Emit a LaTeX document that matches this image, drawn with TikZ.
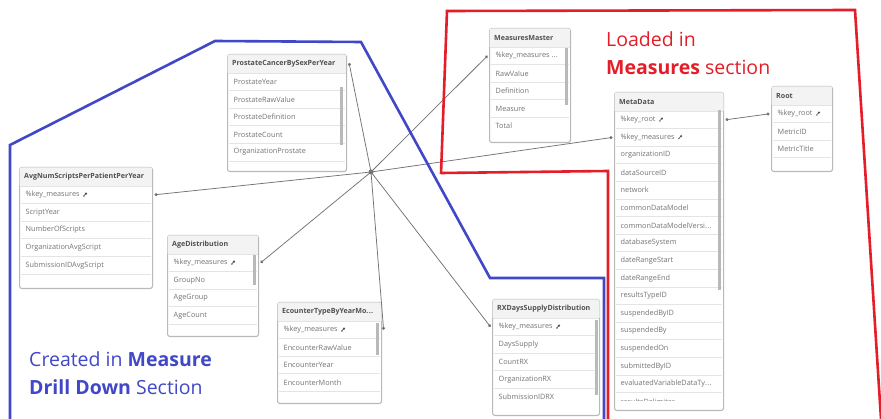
\documentclass[tikz,border=0pt]{standalone}
\usepackage{fontspec}
\setmainfont{Open Sans}
\usetikzlibrary{arrows.meta}
\definecolor{qblue}{RGB}{64,72,200}
\definecolor{qred}{RGB}{228,30,40}
\definecolor{qtxt}{RGB}{115,115,115}
\definecolor{qhdr}{RGB}{80,80,80}
\definecolor{qborder}{RGB}{185,185,185}
\definecolor{qsep}{RGB}{228,228,228}
\definecolor{qhfill}{RGB}{243,243,243}
\definecolor{qscroll}{RGB}{185,185,185}
\definecolor{qline}{RGB}{115,115,115}
\newcommand\trdots{\mbox{.\kern0.3pt.\kern0.3pt.}}
\tikzset{
  tabbox/.style={draw=qborder, line width=1.1pt, fill=white, rounded corners=2.5pt, inner sep=0pt},
  hdrtext/.style={font=\fontsize{7.1}{8}\selectfont\bfseries, text=qhdr, inner sep=0pt},
  rowtext/.style={font=\fontsize{7.3}{8}\selectfont, text=qtxt, inner sep=0pt},
  conn/.style={draw=qline, line width=0.75pt},
  dotend/.style={-{Circle[length=3pt]}},
  dotboth/.style={{Circle[length=3pt]}-{Circle[length=3pt]}},
  keyic/.pic={\draw[line width=0.6pt, qhdr] (-1.6,1.6) -- (0.8,-0.8);
              \draw[line width=0.5pt, qhdr] (-1.0,1.0) -- (-0.4,1.6);
              \fill[qhdr] (1.2,-1.2) circle (1.2pt);},
  region/.style={line width=2.6pt, line join=miter},
  bigtext/.style={inner sep=0pt, anchor=base west, font=\fontsize{19.5}{22}\selectfont},
}
\newcommand\qtab[7]{%
  \node[tabbox, minimum width=#4pt, minimum height=#5pt, anchor=north west] (#1) at (#2,#3) {};
  \begin{scope}
    \clip[rounded corners=2.5pt] ([shift={(0.5pt,-0.5pt)}]#1.north west) rectangle ([shift={(-0.5pt,0.5pt)}]#1.south east);
    \fill[qhfill] (#1.north west) rectangle ([yshift=-19pt]#1.north east);
  \end{scope}
  \node[hdrtext, anchor=west] (#1-h) at ([xshift=5pt,yshift=-10pt]#1.north west) {#6};
  \coordinate (#1-he) at ([yshift=-9pt]#1.north east);
  \draw[qsep, line width=0.6pt] ([xshift=1pt,yshift=-19pt]#1.north west) -- ([xshift=-1pt,yshift=-19pt]#1.north east);
  \begin{scope}
    \clip (#1.north west) rectangle ([yshift=10.5pt]#1.south east);
    \foreach \t/\k [count=\i] in {#7} {
      \node[rowtext, anchor=west] (#1-t\i) at ([xshift=6.5pt,yshift={-19pt-17.6pt*(\i-0.5)}]#1.north west) {\t};
      \coordinate (#1-w\i) at ([yshift={-19pt-17.6pt*(\i-0.5)}]#1.north west);
      \coordinate (#1-e\i) at ([yshift={-19pt-17.6pt*(\i-0.5)}]#1.north east);
      \draw[qsep, line width=0.6pt] ([xshift=2pt,yshift={-19pt-17.6pt*\i}]#1.north west) -- ([xshift=-2pt,yshift={-19pt-17.6pt*\i}]#1.north east);
      \ifnum\k=1 \pic at ([xshift=5pt]#1-t\i.east) {keyic};\fi
    }
  \end{scope}
}
\begin{document}
\begin{tikzpicture}[x=1pt,y=-1pt]
\useasboundingbox[fill=white] (0,0) rectangle (881,419);

% tables
\qtab{avg}{19}{167}{133}{121}{AvgNumScriptsPerPatientPerYear}{\%key\_measures/1, ScriptYear/0, NumberOfScripts/0, OrganizationAvgScript/0, SubmissionIDAvgScript/0}
\qtab{age}{167}{235}{91}{101}{AgeDistribution}{\%key\_measures/1, GroupNo/0, AgeGroup/0, AgeCount/0}
\qtab{ec}{277}{302}{104}{101}{EcounterTypeByYearMo\trdots}{\%key\_measures/1, EncounterRawValue/0, EncounterYear/0, EncounterMonth/0}
\qtab{pr}{227}{54}{119}{117}{ProstateCancerBySexPerYear}{ProstateYear/0, ProstateRawValue/0, ProstateDefinition/0, ProstateCount/0, OrganizationProstate/0}
\qtab{mm}{489}{28}{81}{114}{MeasuresMaster}{\%key\_measures \trdots/0, RawValue/0, Definition/0, Measure/0, Total/0}
\qtab{md}{614}{92}{109}{318}{MetaData}{\%key\_root/1, \%key\_measures/1, organizationID/0, dataSourceID/0, network/0, commonDataModel/0, commonDataModelVersi\trdots/0, databaseSystem/0, dateRangeStart/0, dateRangeEnd/0, resultsTypeID/0, suspendedByID/0, suspendedBy/0, suspendedOn/0, submittedByID/0, evaluatedVariableDataTy\trdots/0, resultsDelimiter/0}
\qtab{rt}{771}{86}{61}{85}{Root}{\%key\_root/1, MetricID/0, MetricTitle/0}
\qtab{rx}{492}{299}{107}{116}{RXDaysSupplyDistribution}{\%key\_measures/1, DaysSupply/0, CountRX/0, OrganizationRX/0, SubmissionIDRX/0}

% scrollbars
\fill[qscroll] (339.5,87) rectangle (342.5,145);
\fill[qscroll] (564.5,48) rectangle (567.5,105);
\fill[qscroll] (252.5,255) rectangle (255.5,285);
\fill[qscroll] (375.5,323) rectangle (378.5,355);
\fill[qscroll] (717.5,110) rectangle (720.5,290);
\fill[qscroll] (594.5,320) rectangle (597.5,395);

% connectors
\coordinate (hub) at (371,172);
\draw[conn, dotend] (hub) -- ([xshift=2pt]pr-he);
\draw[conn, dotend] (hub) -- ([xshift=-1.5pt]mm-w1);
\draw[conn, dotend] (hub) -- ([xshift=-1.5pt]md-w2);
\draw[conn, dotend] (hub) -- ([xshift=1.5pt]avg-e1);
\draw[conn, dotend] (hub) -- ([xshift=1.5pt]age-e1);
\draw[conn, dotend] (hub) -- ([xshift=1.5pt]ec-e1);
\draw[conn, dotend] (hub) -- ([xshift=-1.5pt]rx-w1);
\draw[conn, dotboth] ([xshift=1.5pt]md-e1) -- ([xshift=-1.5pt]rt-w1);
\fill[qline] (hub) circle (2.5pt);

% regions
\draw[region, qblue] (10,419) -- (10,145) -- (215,41) -- (361,42) -- (490,278) -- (604,278) -- (604,419);
\draw[region, qred] (441,174) -- (447,11) -- (855,10) -- (881,419);
\draw[region, qred] (441,173) -- (608,171) -- (608,419);

% labels
\node[bigtext, text=qred] (lt1) at (606,47) {Loaded in};
\node[bigtext, text=qred] (lt2) at (606,75) {\textbf{Measures} section};
\node[bigtext, text=qblue] (bt1) at (29,367) {Created in \textbf{Measure}};
\node[bigtext, text=qblue] (bt2) at (29,395) {\textbf{Drill Down} Section};
\end{tikzpicture}
\end{document}
